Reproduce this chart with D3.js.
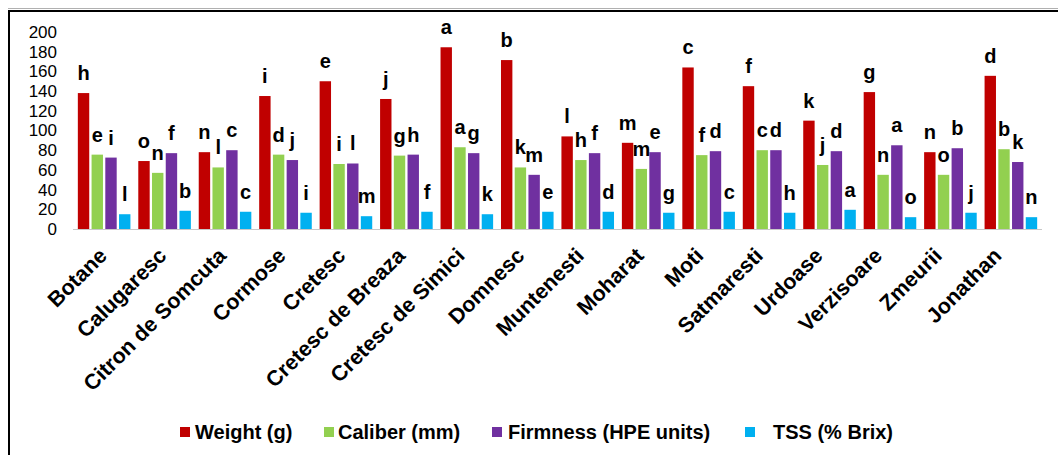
<!DOCTYPE html>
<html>
<head>
<meta charset="utf-8">
<script src="https://cdn.jsdelivr.net/npm/d3@7"></script>
<style>
  html, body { margin: 0; padding: 0; background: #fff; }
  svg { display: block; font-family: "Liberation Sans", Arial, sans-serif; }
</style>
</head>
<body>
<svg id="chart" width="1058" height="455"></svg>
<script>
const categories = ["Botane", "Calugaresc", "Citron de Somcuta", "Cormose", "Cretesc",
  "Cretesc de Breaza", "Cretesc de Simici", "Domnesc", "Muntenesti", "Moharat", "Moti",
  "Satmaresti", "Urdoase", "Verzisoare", "Zmeurii", "Jonathan"];
const seriesNames = ["Weight (g)", "Caliber (mm)", "Firmness (HPE units)", "TSS (% Brix)"];
const weight   = [138, 69, 78, 135, 150, 132, 184.5, 171.5, 94, 87.5, 164, 145, 110, 139, 78, 155.5];
const caliber  = [75.5, 57, 62.5, 75.5, 66, 74.5, 83, 62.5, 70, 61, 75, 80, 65, 55, 55, 81];
const firmness = [72.5, 77, 80, 70, 66.5, 75.5, 77, 55, 77, 78, 79, 80, 79, 85, 82, 68];
const tss      = [15, 18.5, 17.5, 16.5, 13, 17.5, 15, 17.5, 17.5, 16.5, 17.5, 16.5, 19.5, 12, 16.5, 12];
const weightLetters   = ["h","o","n","i","e","j","a","b","l","m","c","f","k","g","n","d"];
const caliberLetters  = ["e","n","l","d","i","g","a","k","h","m","f","c","j","n","o","b"];
const firmnessLetters = ["i","f","c","j","l","h","g","m","f","e","d","d","d","a","b","k"];
const tssLetters      = ["l","b","c","i","m","f","k","e","d","g","c","h","a","o","j","n"];
const yTicks = [0, 20, 40, 60, 80, 100, 120, 140, 160, 180, 200];
const colors = ["#C00000", "#92D050", "#7030A0", "#00B0F0"];

const seriesValues = [weight, caliber, firmness, tss];
const seriesLetters = [weightLetters, caliberLetters, firmnessLetters, tssLetters];

const svg = d3.select("#chart");

// frame
svg.append("line").attr("x1", 8).attr("x2", 1058).attr("y1", 8.5).attr("y2", 8.5)
  .attr("stroke", "#b0b0b0").attr("stroke-width", 1);
svg.append("line").attr("x1", 8).attr("x2", 1058).attr("y1", 11).attr("y2", 11)
  .attr("stroke", "#000").attr("stroke-width", 2);
svg.append("line").attr("x1", 9).attr("x2", 9).attr("y1", 10).attr("y2", 455)
  .attr("stroke", "#000").attr("stroke-width", 2);

const x0 = d3.scaleBand().domain(categories).range([73, 1042])
  .paddingInner(0.13).paddingOuter(0.08);
const x1 = d3.scaleBand().domain(d3.range(4)).range([0, x0.bandwidth()]).paddingInner(0.17);
const y = d3.scaleLinear().domain([0, 200]).range([229, 32]);

// y tick labels
const yAxis = d3.axisLeft(y).tickValues(yTicks).tickSize(0).tickPadding(0);
const gy = svg.append("g").attr("transform", "translate(57,0)").call(yAxis);
gy.select(".domain").remove();
gy.selectAll("text").attr("font-size", 17).attr("fill", "#000")
  .attr("font-family", "'Liberation Sans', Arial, sans-serif");

// baseline
svg.append("line").attr("x1", 73).attr("x2", 1042).attr("y1", y(0) + 0.5).attr("y2", y(0) + 0.5)
  .attr("stroke", "#c8c8c8").attr("stroke-width", 1.2);

// bars
const rows = [];
categories.forEach((c, i) => {
  seriesValues.forEach((vals, s) => {
    rows.push({ cat: c, s: s, v: vals[i], letter: seriesLetters[s][i] });
  });
});

svg.append("g").selectAll("rect").data(rows).join("rect")
  .attr("x", d => x0(d.cat) + x1(d.s))
  .attr("y", d => y(d.v))
  .attr("width", x1.bandwidth())
  .attr("height", d => y(0) - y(d.v))
  .attr("fill", d => colors[d.s]);

svg.append("g").selectAll("text").data(rows).join("text")
  .attr("x", d => x0(d.cat) + x1(d.s) + x1.bandwidth() / 2)
  .attr("y", d => y(d.v) - 13)
  .attr("text-anchor", "middle")
  .attr("font-size", 20).attr("font-weight", "bold").attr("fill", "#000")
  .text(d => d.letter);

// category labels
const xl = d3.scalePoint().domain(categories)
  .range([x0(categories[0]) + x0.bandwidth() / 2 + 4,
          x0(categories[categories.length - 1]) + x0.bandwidth() / 2 - 8]);
svg.append("g").selectAll("text").data(categories).join("text")
  .attr("transform", d => `translate(${xl(d)},257) rotate(-45)`)
  .attr("text-anchor", "end")
  .attr("font-size", 21.5).attr("font-weight", "bold").attr("fill", "#000")
  .text(d => d);

// legend
const legendX = [180, 324, 492, 745];
const legendTextX = [195, 338, 508, 773];
const lg = svg.append("g");
seriesNames.forEach((n, i) => {
  lg.append("rect").attr("x", legendX[i]).attr("y", 427).attr("width", 10).attr("height", 10)
    .attr("fill", colors[i]);
  lg.append("text").attr("x", legendTextX[i]).attr("y", 439)
    .attr("font-size", 20).attr("font-weight", "bold").attr("fill", "#000").text(n);
});
</script>
</body>
</html>
